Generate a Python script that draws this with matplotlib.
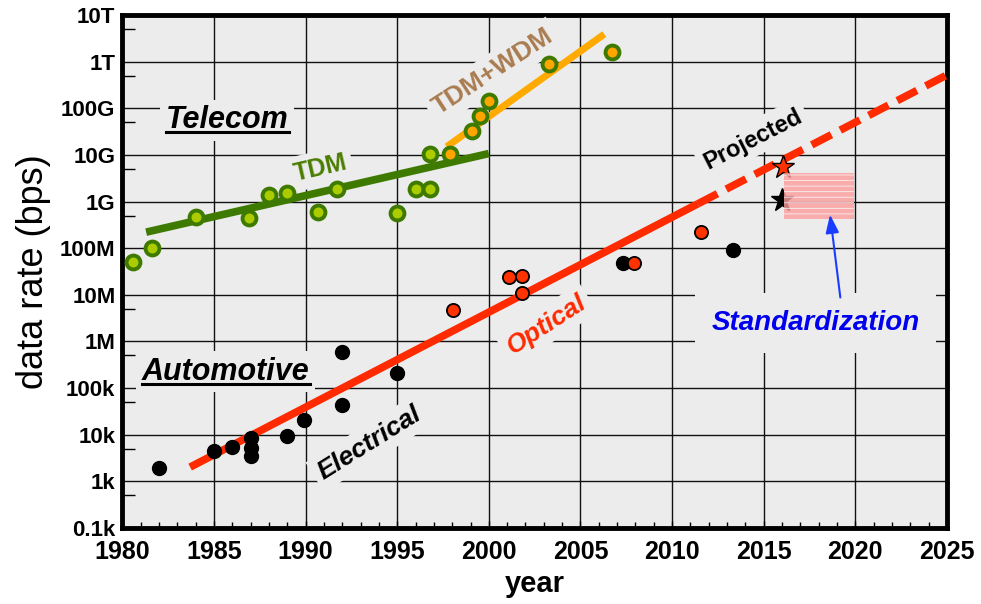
import matplotlib
matplotlib.use('Agg')
import matplotlib.pyplot as plt
from matplotlib.lines import Line2D
from matplotlib.patches import Rectangle
from matplotlib.ticker import FixedLocator, MultipleLocator, NullFormatter, LogLocator

BG = '#ececec'
SANS = ['Liberation Sans', 'DejaVu Sans']

# telecom, TDM era (green centre)
tdm_year = [1980.6, 1981.6, 1984.0, 1986.9, 1988.0, 1989.0, 1990.7, 1991.7, 1995.0, 1996.0, 1996.8, 1996.8]
tdm_rate = [5.1e7, 1.0e8, 4.6e8, 4.5e8, 1.4e9, 1.55e9, 5.9e8, 1.85e9, 5.8e8, 1.85e9, 1.85e9, 1.05e10]
# telecom, TDM+WDM era (orange centre)
wdm_year = [1997.9, 1999.1, 1999.5, 2000.0, 2003.3, 2006.7]
wdm_rate = [1.05e10, 3.2e10, 6.8e10, 1.45e11, 8.9e11, 1.6e12]
# automotive optical (red) and electrical (black)
opt_year = [1998.05, 2001.1, 2001.8, 2001.8, 2007.9, 2011.6]
opt_rate = [4.7e6, 2.45e7, 2.5e7, 1.07e7, 4.7e7, 2.2e8]
elec_year = [1982.0, 1985.0, 1986.0, 1987.0, 1987.0, 1987.0, 1989.0, 1989.9, 1992.0, 1992.0, 1995.0, 2007.3, 2013.3]
elec_rate = [1.95e3, 4.5e3, 5.5e3, 8.5e3, 5.2e3, 3.5e3, 9.3e3, 2.05e4, 4.3e4, 6.0e5, 2.1e5, 4.7e7, 9.1e7]

# trend lines
tdm_fit_year = [1981.3, 2000.0]
tdm_fit_rate = [2.2e8, 1.07e10]
wdm_fit_year = [1997.7, 2006.3]
wdm_fit_rate = [1.5e10, 3.9e12]
opt_fit_year = [1983.7, 2011.4]
opt_fit_rate = [2.0e3, 8.9e8]
proj_fit_year = [2011.4, 2025.0]
proj_fit_rate = [8.9e8, 5.2e11]

# stars and the standardization window
star_red_year, star_red_rate = [2016.05], [5.4e9]
star_blk_year, star_blk_rate = [2016.0], [1.1e9]
std_years = (2016.1, 2019.9)
std_rates = (4.3e8, 4.1e9)

ytick_vals = [1e2, 1e3, 1e4, 1e5, 1e6, 1e7, 1e8, 1e9, 1e10, 1e11, 1e12, 1e13]
ytick_labels = ['0.1k', '1k', '10k', '100k', '1M', '10M', '100M', '1G', '10G', '100G', '1T', '10T']

plt.rcParams['hatch.linewidth'] = 0.6

fig = plt.figure(figsize=(9.81, 6.04), dpi=100)
ax = fig.add_axes([0.1247, 0.1263, 0.8406, 0.8487])
ax.set_facecolor(BG)
ax.set_yscale('log')
ax.set_xlim(1980, 2025)
ax.set_ylim(1e2, 1e13)

ax.xaxis.set_major_locator(MultipleLocator(5))
ax.xaxis.set_minor_locator(MultipleLocator(1))
ax.yaxis.set_major_locator(FixedLocator(ytick_vals))
ax.set_yticklabels(ytick_labels)
ax.yaxis.set_minor_locator(LogLocator(base=10, subs=[5], numticks=20))
ax.yaxis.set_minor_formatter(NullFormatter())

ax.grid(True, which='major', color='#111111', lw=1.0)
ax.set_axisbelow(True)
ax.tick_params(which='both', direction='in', top=False, right=False)
ax.tick_params(axis='x', which='major', length=5, width=1, pad=9)
ax.tick_params(axis='x', which='minor', length=4, width=1)
ax.tick_params(axis='y', which='major', length=0, pad=5)
ax.tick_params(axis='y', which='minor', length=9, width=1)
for lab in ax.get_xticklabels():
    lab.set_fontfamily(SANS)
    lab.set_fontweight('bold')
    lab.set_fontsize(18)
for lab in ax.get_yticklabels():
    lab.set_fontfamily(SANS)
    lab.set_fontweight('bold')
    lab.set_fontsize(16)
for sp in ax.spines.values():
    sp.set_linewidth(3.5)
    sp.set_color('black')

ax.set_xlabel('year', fontsize=21, fontweight='bold', family=SANS, labelpad=4)
ax.set_ylabel('data rate (bps)', fontsize=26, family=SANS, labelpad=6)

# trend lines
ax.plot(tdm_fit_year, tdm_fit_rate, color='#3f7a00', lw=5.5, solid_capstyle='butt', zorder=4)
ax.plot(wdm_fit_year, wdm_fit_rate, color='#ffaa00', lw=5, solid_capstyle='butt', zorder=4)
ax.plot(opt_fit_year, opt_fit_rate, color='#ff2a00', lw=5.5, solid_capstyle='butt', zorder=4)
ax.plot(proj_fit_year, proj_fit_rate, color='#ff2a00', lw=5.5, dashes=(2.9, 1.3),
        dash_capstyle='butt', zorder=4)

# data points
ax.plot(tdm_year, tdm_rate, 'o', ms=10, mfc='#aacc00', mec='#3f7a00', mew=2.8, zorder=5)
ax.plot(wdm_year, wdm_rate, 'o', ms=10, mfc='#ffa500', mec='#3f7a00', mew=2.8, zorder=5)
ax.plot(elec_year, elec_rate, 'o', ms=10, mfc='black', mec='black', zorder=5)
ax.plot(opt_year, opt_rate, 'o', ms=9.5, mfc='#ff3300', mec='black', mew=1.3, zorder=5)

ax.plot(star_red_year, star_red_rate, '*', ms=17, mfc='#ff3300', mec='black', mew=1.0, zorder=5)
ax.plot(star_blk_year, star_blk_rate, '*', ms=17, mfc='black', mec='black', zorder=5)

rect = Rectangle((std_years[0], std_rates[0]), std_years[1] - std_years[0], std_rates[1] - std_rates[0],
                 facecolor='#fc9c9c', edgecolor='white', lw=0, hatch='---', alpha=0.8, zorder=6)
ax.add_patch(rect)

ax.annotate('', xy=(2018.6, 6.0e8), xytext=(2019.2, 7.6e6),
            arrowprops=dict(arrowstyle='-|>,head_width=0.4,head_length=1.1', color='#1a3cff', lw=1.5),
            zorder=6)

box = dict(facecolor=BG, edgecolor='none', pad=4)

t_tel = ax.text(1985.72, 10 ** 10.57, 'Telecom', fontsize=22, fontweight='bold', style='italic',
                family=SANS, ha='center', va='baseline', bbox=box, zorder=3)
t_auto = ax.text(1985.65, 10 ** 5.18, 'Automotive', fontsize=22, fontweight='bold', style='italic',
                 family=SANS, ha='center', va='baseline', bbox=box, zorder=3)
ax.text(1990.8, 10 ** 9.71, 'TDM', fontsize=18, fontweight='bold', color='#4a7d00', family=SANS,
        rotation=13, ha='center', va='center', rotation_mode='anchor', bbox=box, zorder=3)
ax.text(2000.2, 10 ** 11.78, 'TDM+WDM', fontsize=19, fontweight='bold', color='#a97c50', family=SANS,
        rotation=33, ha='center', va='center', rotation_mode='anchor', bbox=box, zorder=3)
ax.text(2014.4, 10 ** 10.34, 'Projected', fontsize=17, fontweight='bold', color='black', family=SANS,
        rotation=27, ha='center', va='center', rotation_mode='anchor', bbox=box, zorder=3)
ax.text(2003.15, 10 ** 6.35, 'Optical', fontsize=19, fontweight='bold', style='italic', color='#ff2a00',
        family=SANS, rotation=33, ha='center', va='center', rotation_mode='anchor', bbox=box, zorder=3)
ax.text(1993.47, 10 ** 3.81, 'Electrical', fontsize=19, fontweight='bold', style='italic', color='black',
        family=SANS, rotation=32, ha='center', va='center', rotation_mode='anchor', bbox=box, zorder=3)
ax.text(2017.83, 10 ** 6.39, 'Standardization', fontsize=20, fontweight='bold', style='italic',
        color='#0000ee', family=SANS, ha='center', va='center',
        bbox=dict(facecolor=BG, edgecolor='none', pad=12), zorder=3)

# underline the two section headings
fig.canvas.draw()
inv = fig.transFigure.inverted()
for t in (t_tel, t_auto):
    bb = t.get_window_extent()
    base = ax.transData.transform(t.get_position())[1]
    (x0, y0), (x1, _) = inv.transform([(bb.x0, base - 4), (bb.x1, base - 4)])
    fig.add_artist(Line2D([x0, x1], [y0, y0], color='black', lw=2.2))

fig.savefig('out.png', dpi=100)
